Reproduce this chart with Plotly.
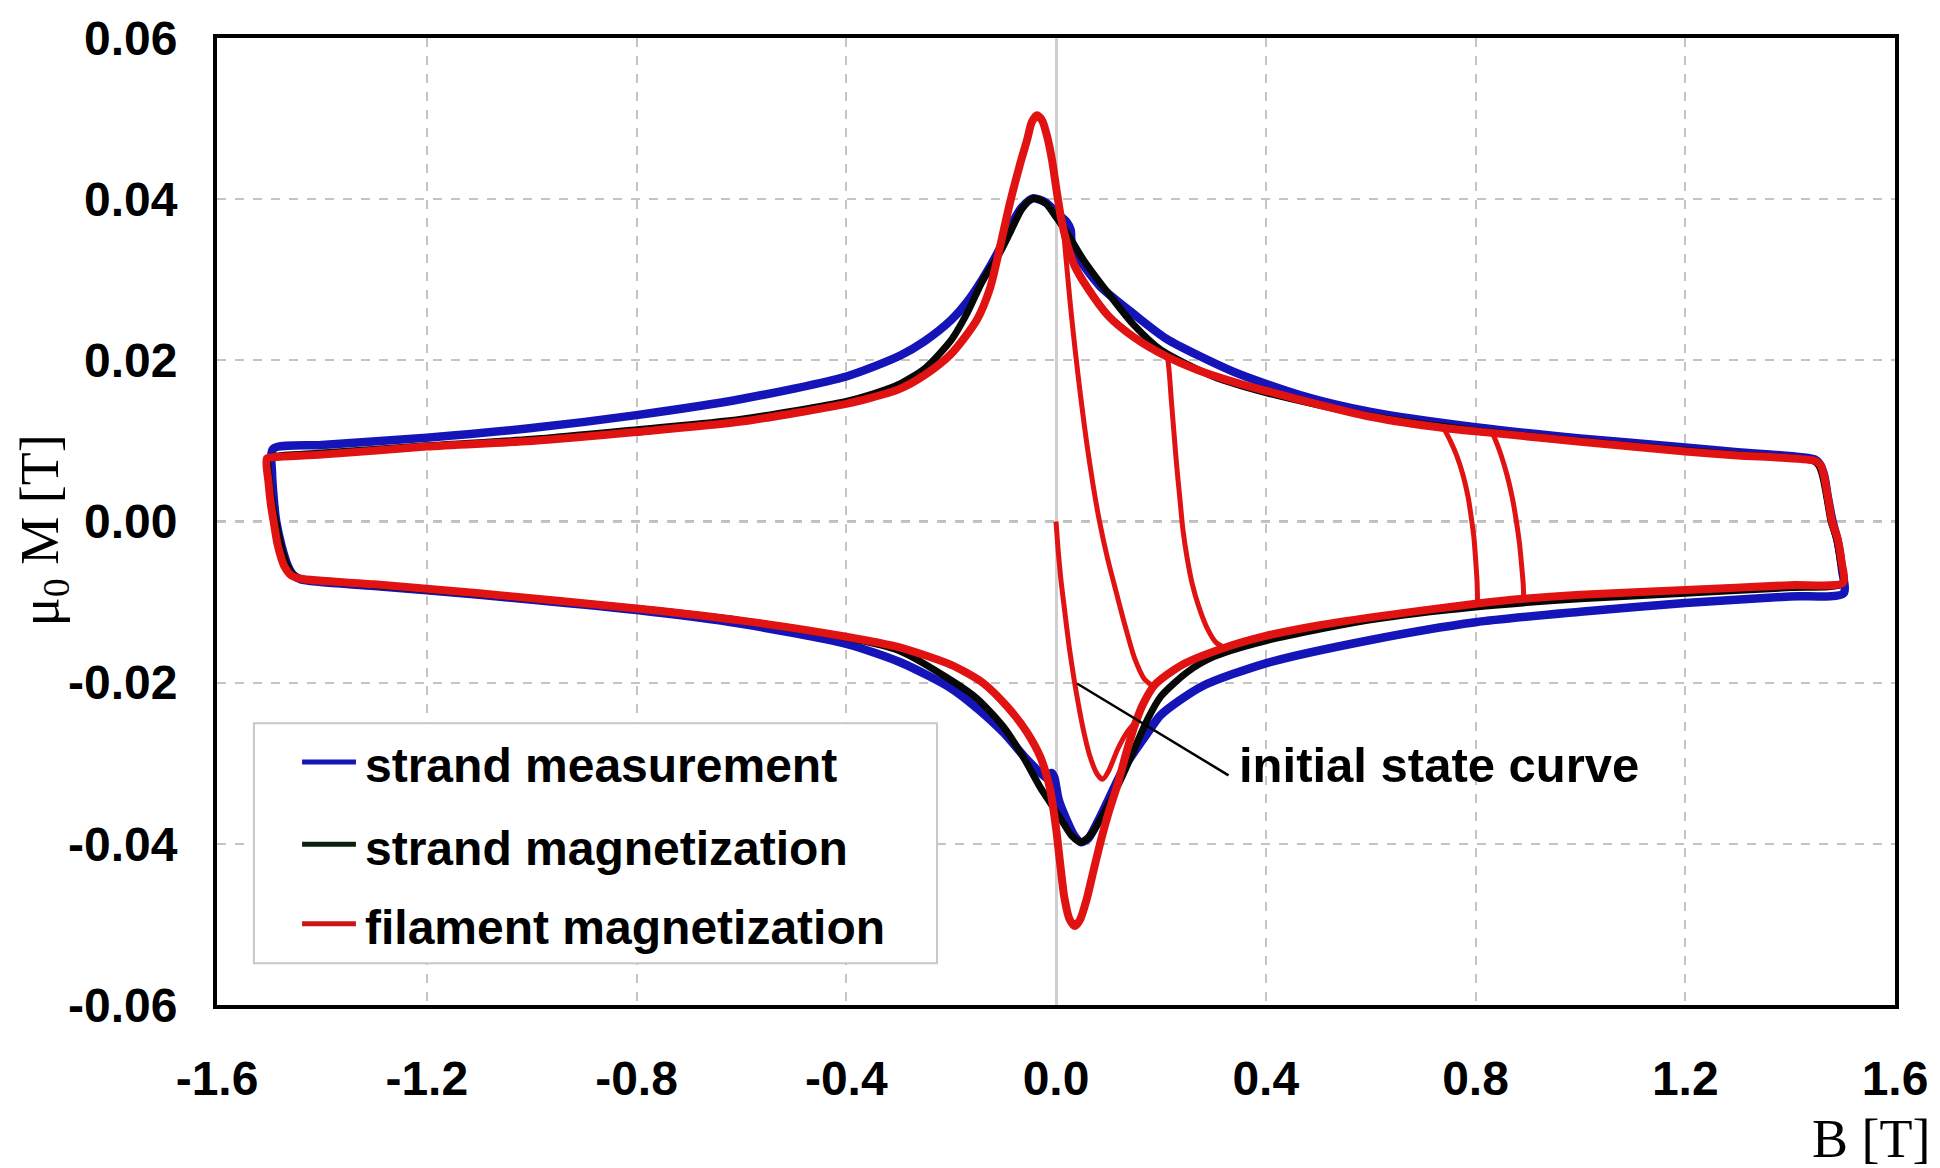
import plotly.graph_objects as go

# ---------------- data (B in T, mu0*M in T) ----------------
x_ticks = [-1.6, -1.2, -0.8, -0.4, 0.0, 0.4, 0.8, 1.2, 1.6]
x_tick_labels = ["-1.6", "-1.2", "-0.8", "-0.4", "0.0", "0.4", "0.8", "1.2", "1.6"]
y_ticks = [-0.06, -0.04, -0.02, 0.0, 0.02, 0.04, 0.06]
y_tick_labels = ["-0.06", "-0.04", "-0.02", "0.00", "0.02", "0.04", "0.06"]

series_names = ["strand measurement", "strand magnetization", "filament magnetization"]

# strand measurement (blue) - full loop
blue_B = [1.502, 1.499, 1.491, 1.481, 1.472, 1.465, 1.457, 1.447,
          1.30, 1.20, 1.00, 0.80, 0.60, 0.465, 0.338, 0.21, 0.147, 0.084, 0.045, 0.030, 0.028, 0.020,
          0.010, 0.000, -0.020, -0.044, -0.065, -0.088, -0.110, -0.139, -0.170, -0.200, -0.250, -0.297,
          -0.40, -0.60, -0.80, -1.00, -1.20, -1.40, -1.493,
          -1.495, -1.492, -1.487, -1.477, -1.465, -1.455, -1.440,
          -1.30, -1.10, -0.80, -0.60, -0.40, -0.296, -0.20, -0.15, -0.10, -0.06, -0.030, -0.012,
          -0.008, -0.008, -0.003, 0.005, 0.020, 0.035, 0.048, 0.062, 0.080, 0.100, 0.130, 0.175,
          0.200, 0.277, 0.40, 0.60, 0.80, 1.00, 1.20, 1.40, 1.502]
blue_M = [-0.0089, -0.0060, -0.0025, 0.0000, 0.0030, 0.0057, 0.0071, 0.0077,
          0.0086, 0.0092, 0.0103, 0.0117, 0.0136, 0.0157, 0.0186, 0.0227, 0.0258, 0.0292, 0.0325, 0.0345, 0.0362, 0.0372,
          0.0378, 0.0384, 0.0396, 0.0401, 0.0390, 0.0365, 0.0335, 0.0302, 0.0272, 0.0250, 0.0224, 0.0206,
          0.0180, 0.0152, 0.0132, 0.0116, 0.0104, 0.0095, 0.0090,
          0.0060, 0.0030, 0.0000, -0.0030, -0.0055, -0.0066, -0.0072,
          -0.0080, -0.0091, -0.0110, -0.0127, -0.0152, -0.0175, -0.0207, -0.0232, -0.0262, -0.0292, -0.0312, -0.0322,
          -0.0336, -0.0312, -0.0318, -0.0345, -0.0370, -0.0390, -0.0398, -0.0393, -0.0372, -0.0345, -0.0305, -0.0262,
          -0.0240, -0.0205, -0.0176, -0.0147, -0.0125, -0.0112, -0.0101, -0.0093, -0.0089]

# strand magnetization (black) - full loop
black_B = [1.500, 1.496, 1.488, 1.478, 1.470, 1.462, 1.455, 1.445,
           1.30, 1.20, 1.00, 0.80, 0.60, 0.40, 0.30, 0.20, 0.147, 0.10, 0.052, 0.021, 0.000,
           -0.020, -0.044, -0.065, -0.088, -0.110, -0.139, -0.170, -0.200, -0.250, -0.300, -0.350,
           -0.40, -0.60, -0.80, -1.00, -1.20, -1.40, -1.490, -1.502,
           -1.500, -1.494, -1.488, -1.478, -1.466, -1.455, -1.440,
           -1.30, -1.10, -0.80, -0.60, -0.40, -0.30, -0.20, -0.15, -0.10, -0.06, -0.03, -0.01,
           0.010, 0.030, 0.048, 0.065, 0.080, 0.099, 0.125, 0.149, 0.175, 0.200, 0.25, 0.30,
           0.40, 0.60, 0.80, 1.00, 1.20, 1.40, 1.500]
black_M = [-0.0077, -0.0050, -0.0020, 0.0000, 0.0030, 0.0056, 0.0069, 0.0075,
           0.0083, 0.0088, 0.0100, 0.0113, 0.0131, 0.0160, 0.0180, 0.0213, 0.0245, 0.0283, 0.0325, 0.0358, 0.0378,
           0.0395, 0.0401, 0.0388, 0.0358, 0.0330, 0.0300, 0.0258, 0.0225, 0.0190, 0.0170, 0.0158,
           0.0149, 0.0127, 0.0114, 0.0102, 0.0094, 0.0085, 0.0081, 0.0079,
           0.0050, 0.0020, 0.0000, -0.0030, -0.0055, -0.0066, -0.0071,
           -0.0079, -0.0090, -0.0108, -0.0123, -0.0144, -0.0160, -0.0197, -0.0220, -0.0255, -0.0295, -0.0330, -0.0350,
           -0.0370, -0.0390, -0.0398, -0.0390, -0.0375, -0.0352, -0.0318, -0.0283, -0.0245, -0.0217, -0.0187, -0.0168,
           -0.0148, -0.0122, -0.0106, -0.0096, -0.0089, -0.0082, -0.0077]

# filament magnetization (red) - major loop
red_B = [1.501, 1.498, 1.490, 1.480, 1.472, 1.465, 1.458, 1.448,
         1.30, 1.20, 1.00, 0.83, 0.74, 0.60, 0.46, 0.34, 0.27, 0.21, 0.15, 0.10, 0.06, 0.035, 0.021,
         0.010, 0.002, -0.008, -0.017, -0.026, -0.036, -0.046, -0.055, -0.070, -0.088, -0.107, -0.126,
         -0.151, -0.200, -0.250, -0.300, -0.350, -0.40, -0.60, -0.80, -1.00, -1.20, -1.40, -1.490, -1.505,
         -1.502, -1.497, -1.492, -1.484, -1.472, -1.458, -1.440,
         -1.30, -1.10, -0.80, -0.60, -0.40, -0.30, -0.20, -0.14, -0.090, -0.055, -0.030, -0.012,
         0.000, 0.008, 0.016, 0.026, 0.036, 0.046, 0.058, 0.072, 0.086, 0.100, 0.118, 0.135, 0.149,
         0.165, 0.188, 0.24, 0.32, 0.40, 0.50, 0.60, 0.80, 0.89, 1.00, 1.20, 1.40, 1.501]
red_M = [-0.0076, -0.0050, -0.0020, 0.0000, 0.0030, 0.0056, 0.0070, 0.0075,
         0.0082, 0.0087, 0.0099, 0.0110, 0.0116, 0.0130, 0.0152, 0.0173, 0.0188, 0.0205, 0.0228, 0.0255, 0.0290, 0.0318, 0.0345,
         0.0375, 0.0407, 0.0450, 0.0478, 0.0497, 0.0504, 0.0496, 0.0474, 0.0440, 0.0395, 0.0340, 0.0289,
         0.0250, 0.0208, 0.0182, 0.0164, 0.0154, 0.0146, 0.0124, 0.0111, 0.0100, 0.0093, 0.0083, 0.0080, 0.0078,
         0.0050, 0.0020, 0.0000, -0.0030, -0.0055, -0.0067, -0.0071,
         -0.0078, -0.0089, -0.0108, -0.0123, -0.0143, -0.0156, -0.0178, -0.0200, -0.0232, -0.0262, -0.0292, -0.0330,
         -0.0380, -0.0425, -0.0467, -0.0494, -0.0502, -0.0494, -0.0470, -0.0432, -0.0395, -0.0362, -0.0325, -0.0285, -0.0255,
         -0.0228, -0.0203, -0.0178, -0.0157, -0.0142, -0.0129, -0.0119, -0.0102, -0.0096, -0.0091, -0.0085, -0.0079, -0.0076]

# filament magnetization - initial state curve
init_B = [0.000, 0.004, 0.009, 0.016, 0.025, 0.035, 0.045, 0.054, 0.065, 0.079, 0.089, 0.100, 0.118, 0.135, 0.150]
init_M = [0.0000, -0.0035, -0.0070, -0.0108, -0.0155, -0.0198, -0.0235, -0.0264, -0.0292, -0.0314, -0.0320, -0.0310, -0.0282, -0.0262, -0.0250]

# filament magnetization - minor reversal curves
loopA_B = [0.182, 0.168, 0.150, 0.132, 0.115, 0.098, 0.083, 0.070, 0.058, 0.047, 0.037, 0.028, 0.020, 0.013]
loopA_M = [-0.0203, -0.0195, -0.0170, -0.0130, -0.0088, -0.0045, 0.0000, 0.0048, 0.0100, 0.0155, 0.0210, 0.0265, 0.0320, 0.0370]
loopB_B = [0.322, 0.305, 0.288, 0.272, 0.260, 0.250, 0.242, 0.236, 0.230, 0.225, 0.220, 0.216, 0.213]
loopB_M = [-0.0157, -0.0150, -0.0132, -0.0105, -0.0078, -0.0045, -0.0010, 0.0030, 0.0070, 0.0110, 0.0150, 0.0185, 0.0203]
loopC_B = [0.804, 0.803, 0.800, 0.797, 0.793, 0.786, 0.776, 0.764, 0.752, 0.741]
loopC_M = [-0.0103, -0.0075, -0.0045, -0.0020, 0.0000, 0.0030, 0.0058, 0.0082, 0.0100, 0.0114]
loopD_B = [0.892, 0.891, 0.888, 0.884, 0.878, 0.870, 0.860, 0.849, 0.840, 0.833]
loopD_M = [-0.0096, -0.0078, -0.0055, -0.0028, 0.0000, 0.0030, 0.0058, 0.0082, 0.0098, 0.0109]

# annotation pointer (from curve point to label)
pointer_B = [0.040, 0.329]
pointer_M = [-0.0201, -0.0315]

# ---------------- figure ----------------
BLUE = "#1414b8"
BLACK = "#050805"
RED = "#e01212"
LEG_COLORS = ["#1414b8", "#0c200c", "#cc1414"]
SANS = "Liberation Sans, Arial, sans-serif"
SERIF = "Liberation Serif, Times New Roman, serif"

fig = go.Figure()
fig.add_trace(go.Scatter(x=blue_B, y=blue_M, mode="lines", name=series_names[0], showlegend=False,
                         line=dict(color=BLUE, width=8.5, shape="spline", smoothing=0.7)))
fig.add_trace(go.Scatter(x=black_B, y=black_M, mode="lines", name=series_names[1], showlegend=False,
                         line=dict(color=BLACK, width=7, shape="spline", smoothing=0.7)))
fig.add_trace(go.Scatter(x=red_B, y=red_M, mode="lines", name=series_names[2], showlegend=False,
                         line=dict(color=RED, width=8, shape="spline", smoothing=0.7)))
for bx, my in [(init_B, init_M), (loopA_B, loopA_M), (loopB_B, loopB_M),
               (loopC_B, loopC_M), (loopD_B, loopD_M)]:
    fig.add_trace(go.Scatter(x=bx, y=my, mode="lines", showlegend=False, name=series_names[2],
                             line=dict(color=RED, width=5, shape="spline", smoothing=0.7)))
fig.add_trace(go.Scatter(x=pointer_B, y=pointer_M, mode="lines", showlegend=False,
                         line=dict(color="black", width=2.5), hoverinfo="skip"))

axis_common = dict(
    showgrid=True, gridcolor="#c4c4c4", gridwidth=2, griddash="dash",
    showline=True, mirror=True, linecolor="black", linewidth=4,
    ticks="", tickfont=dict(family=SANS, size=48, color="black", weight="bold"),
)
fig.update_xaxes(range=[-1.6, 1.6], tickvals=x_ticks, ticktext=x_tick_labels,
                 zeroline=True, zerolinecolor="#cfcfcf", zerolinewidth=3,
                 ticklabelstandoff=28, **axis_common)
fig.update_yaxes(range=[-0.06, 0.06], tickvals=y_ticks, ticktext=y_tick_labels,
                 zeroline=False, ticklabelstandoff=26, **axis_common)

# darker dashed line at M = 0, between the grid and the curves
fig.add_shape(type="line", xref="paper", x0=0, x1=1, yref="y", y0=0, y1=0,
              line=dict(color="#7a7a7a", width=2, dash="dash"), layer="between")

# legend box drawn in paper coordinates
fig.add_shape(type="rect", xref="paper", yref="paper", x0=0.0220, x1=0.4291, y0=0.0431, y1=0.2913,
              line=dict(color="#c8c8c8", width=2), fillcolor="white", layer="above")
leg_rows = [0.2513, 0.1662, 0.0841]
for name, col, yy in zip(series_names, LEG_COLORS, leg_rows):
    fig.add_shape(type="line", xref="paper", yref="paper", x0=0.0507, x1=0.0828, y0=yy, y1=yy,
                  line=dict(color=col, width=5), layer="above")
    fig.add_annotation(text=name, x=0.0870, y=yy - 0.004, xref="paper", yref="paper",
                       xanchor="left", yanchor="middle", showarrow=False,
                       font=dict(family=SANS, size=48, color="black", weight="bold"))

fig.add_annotation(text="initial state curve", x=0.345, y=-0.0302, xref="x", yref="y",
                   xanchor="left", yanchor="middle", showarrow=False,
                   font=dict(family=SANS, size=49, color="black", weight="bold"))
fig.add_annotation(text="\u03bc<sub>0</sub> M [T]", x=-0.1037, y=0.491, xref="paper", yref="paper",
                   textangle=-90, xanchor="center", yanchor="middle", showarrow=False,
                   font=dict(family=SERIF, size=54, color="black"))
fig.add_annotation(text="B [T]", x=0.9857, y=-0.1385, xref="paper", yref="paper",
                   xanchor="center", yanchor="middle", showarrow=False,
                   font=dict(family=SERIF, size=54, color="black"))

fig.update_layout(
    width=1940, height=1168,
    margin=dict(l=217, r=45, t=30, b=163),
    paper_bgcolor="white", plot_bgcolor="white",
    showlegend=False,
)

# remove the browser's default 8px body margin so the 1940x1168 figure fills the window exactly
fig.write_html("out.html", config={"displayModeBar": False},
               post_script="document.body.style.margin='0px';")
